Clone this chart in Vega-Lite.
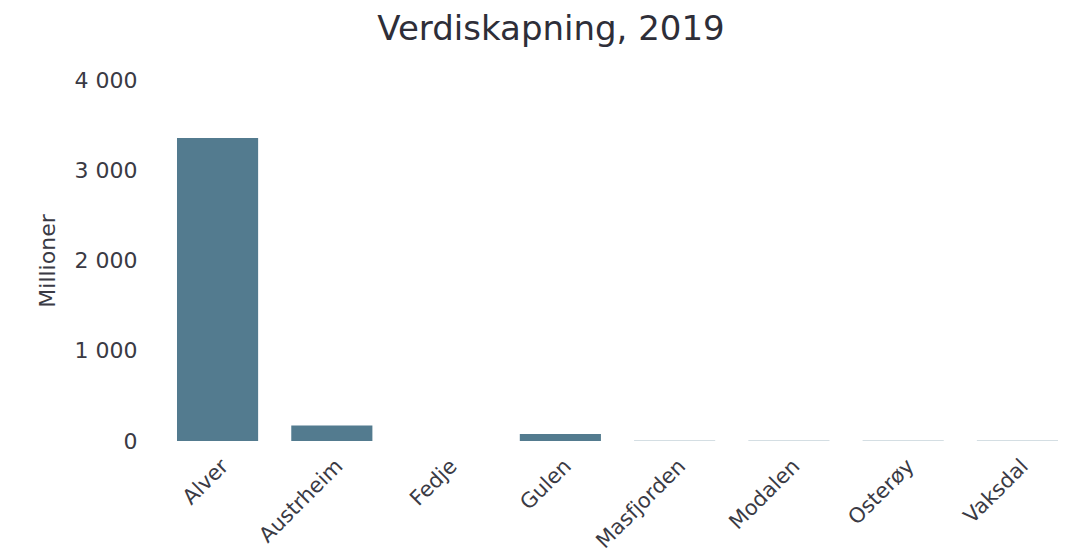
{
  "$schema": "https://vega.github.io/schema/vega-lite/v6.json",
  "autosize": "none",
  "width": 897,
  "height": 361,
  "padding": {"left": 169, "top": 80, "right": 3, "bottom": 116},
  "background": "white",
  "title": {"text": "Verdiskapning, 2019", "fontSize": 34, "font": "DejaVu Sans", "fontWeight": "normal", "color": "#2e2e38", "anchor": "middle", "offset": 22, "frame": "bounds"},
  "config": {"view": {"stroke": null}, "font": "DejaVu Sans"},
  "data": {"values": [
    {"kommune": "Alver", "verdi": 3357},
    {"kommune": "Austrheim", "verdi": 172},
    {"kommune": "Fedje", "verdi": 0},
    {"kommune": "Gulen", "verdi": 78},
    {"kommune": "Masfjorden", "verdi": 3},
    {"kommune": "Modalen", "verdi": 3},
    {"kommune": "Osterøy", "verdi": 3},
    {"kommune": "Vaksdal", "verdi": 3}
  ]},
  "mark": {"type": "bar", "color": "#537b8f"},
  "encoding": {
    "x": {"field": "kommune", "type": "nominal", "sort": null,
      "scale": {"paddingInner": 0.29, "paddingOuter": 0.07},
      "axis": {"title": null, "labelAngle": -45, "labelFontSize": 21, "labelColor": "#3a3a44", "domain": false, "ticks": false, "labelPadding": 14, "labelAlign": "right", "labelBaseline": "top"}},
    "y": {"field": "verdi", "type": "quantitative",
      "scale": {"domain": [0, 4000]},
      "axis": {"title": "Millioner", "titleFontSize": 22, "titleFontWeight": "normal", "titleColor": "#3a3a44", "titlePadding": 15, "values": [0, 1000, 2000, 3000, 4000], "labelExpr": "replace(format(datum.value, ','), ',', ' ')", "labelFontSize": 22, "labelColor": "#3a3a44", "labelPadding": 32, "domain": false, "ticks": false, "grid": false}}
  }
}
